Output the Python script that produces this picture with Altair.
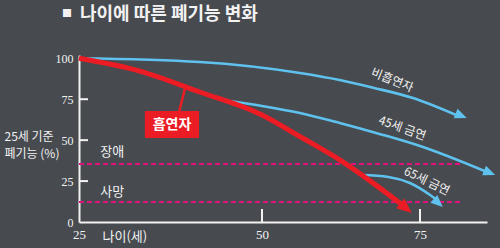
import altair as alt
import pandas as pd

# ---------------- data ----------------
title_mark = "■"
title_text = "나이에 따른 폐기능 변화"
y_title = ["25세 기준", "폐기능 (%)"]
x_title = "나이(세)"

x_break_ages = [25, 50, 75, 85.6]          # hand-drawn (uneven) age axis
x_tick_values = [25, 50, 75]
x_inner_ticks = [50, 75]
y_tick_values = [0, 25, 50, 75, 100]
y_inner_ticks = [25, 50, 75]

nonsmoker_age = [25, 41.5, 56.0, 62.3, 67.6, 73.9, 80.9]
nonsmoker_val = [100, 97.7, 91.0, 86.7, 82.0, 75.7, 65.0]
smoker_age = [25, 33.3, 41.5, 50, 56.0, 62.3, 67.1, 72.2]
smoker_val = [100, 92.2, 79.4, 65.4, 52.2, 37.9, 25.1, 10.4]
quit45_age = [44.9, 50, 56.0, 62.3, 68.6, 75, 85.6]
quit45_val = [74.4, 70.9, 66.6, 60.5, 53.8, 46.4, 30.5]
quit65_age = [65.8, 70.0, 73.4, 76.6, 77.5]
quit65_val = [28.7, 27.5, 23.8, 16.5, 14.0]

series_names = ["비흡연자", "45세 금연", "65세 금연", "흡연자"]
arrow_age = [82.4, 86.9, 78.6, 73.7]
arrow_val = [63.5, 28.7, 9.2, 5.5]
arrow_angle = [22, 22, 42, 40]
arrow_size = [144, 144, 144, 225]

label_names = ["비흡연자", "45세 금연", "65세 금연"]
label_age = [70.6, 72.2, 76.1]
label_val = [86.7, 57.4, 25.0]
label_angle = [22, 20, 26]

threshold_names = ["장애", "사망"]
threshold_vals = [35.5, 12.2]
threshold_start = 25
threshold_end = 81.6
threshold_label_age = [27.9, 27.9]
threshold_label_val = [42.5, 18.3]

smoker_box_age = [34.0, 41.4]
smoker_box_val = [51.3, 67.8]
smoker_box_label = "흡연자"
connector_age = [39.5, 38.7]
connector_val = [81.9, 67.8]

# ---------------- styling ----------------
BG = "#474a4f"
BLUE = "#5fc2ee"
RED = "#ec1c24"
PINK = "#e3117f"
WHITE = "#f2f2f2"
FONT = "Noto Sans CJK KR"
NUMFONT = "Liberation Sans Narrow"
W, H = 408, 167

xscale = alt.Scale(domain=x_break_ages, range=[0, 183, 341, 408], nice=False, zero=False)
yscale = alt.Scale(domain=[0, 102], nice=False, zero=False)

xaxis = alt.Axis(values=x_tick_values, title=x_title, domainColor=WHITE, domainWidth=2,
                 ticks=False, tickSize=0, grid=False, labelColor=WHITE, labelFont=NUMFONT,
                 labelFontSize=13, labelPadding=6, labelFlush=False, labelOverlap=False,
                 labelAngle=0, titleX=23, titleY=14, titleAlign="left", titleBaseline="middle",
                 titleFont=FONT, titleFontSize=13, titleFontWeight="normal", titleColor=WHITE)
yaxis = alt.Axis(values=y_tick_values, title=y_title, domainColor=WHITE, domainWidth=2,
                 ticks=False, tickSize=0, grid=False, labelColor=WHITE, labelFont=NUMFONT,
                 labelFontSize=12, labelPadding=6, labelFlush=False, labelOverlap=False,
                 titleAngle=0, titleX=-75, titleY=81, titleAlign="left", titleBaseline="middle",
                 titleLineHeight=17, titleFont=FONT, titleFontSize=12, titleFontWeight="normal",
                 titleColor=WHITE)


def X(field="age"):
    return alt.X(f"{field}:Q", scale=xscale, axis=xaxis)


def Y(field="val"):
    return alt.Y(f"{field}:Q", scale=yscale, axis=yaxis)


rows = []
for name, ages, vals in [("비흡연자", nonsmoker_age, nonsmoker_val),
                         ("45세 금연", quit45_age, quit45_val),
                         ("65세 금연", quit65_age, quit65_val),
                         ("흡연자", smoker_age, smoker_val)]:
    for a, v in zip(ages, vals):
        rows.append({"series": name, "age": a, "val": v})
lines = pd.DataFrame(rows)

color_scale = alt.Scale(domain=series_names, range=[BLUE, BLUE, BLUE, RED])

thr = pd.DataFrame({"name": threshold_names, "val": threshold_vals,
                    "age": [threshold_start] * 2, "age2": [threshold_end] * 2})
thr_lab = pd.DataFrame({"name": threshold_names, "age": threshold_label_age,
                        "val": threshold_label_val})
arrows = pd.DataFrame({"series": series_names, "age": arrow_age, "val": arrow_val,
                       "ang": arrow_angle, "sz": arrow_size})
labels = pd.DataFrame({"label": label_names, "age": label_age, "val": label_val,
                       "ang": label_angle})
box = pd.DataFrame({"age": [smoker_box_age[0]], "age2": [smoker_box_age[1]],
                    "val": [smoker_box_val[0]], "val2": [smoker_box_val[1]],
                    "label": [smoker_box_label],
                    "cage": [sum(smoker_box_age) / 2], "cval": [sum(smoker_box_val) / 2]})
conn = pd.DataFrame({"age": [connector_age[0]], "age2": [connector_age[1]],
                     "val": [connector_val[0]], "val2": [connector_val[1]]})
yt = pd.DataFrame({"val": y_inner_ticks})
xt = pd.DataFrame({"age": x_inner_ticks})
ttl = pd.DataFrame({"mark": [title_mark], "text": [title_text]})

thr_layer = alt.Chart(thr).mark_rule(color=PINK, strokeWidth=2, strokeDash=[5, 3]).encode(
    x=X(), x2="age2:Q", y=Y())
thr_text = alt.Chart(thr_lab).mark_text(align="left", baseline="middle", font=FONT,
                                        fontSize=13, color=WHITE).encode(
    x=X(), y=Y(), text="name:N")

blue_lines = alt.Chart(lines).transform_filter(alt.datum.series != "흡연자").mark_line(
    strokeWidth=2.6, interpolate="monotone", color=BLUE).encode(
    x=X(), y=Y(), detail="series:N", order="age:Q")
red_line = alt.Chart(lines).transform_filter(alt.datum.series == "흡연자").mark_line(
    strokeWidth=5, interpolate="monotone", color=RED).encode(
    x=X(), y=Y(), order="age:Q")

arrow_layer = alt.Chart(arrows).mark_point(shape="M0,0L-2,-0.85L-2,0.85Z", filled=True,
                                           opacity=1, strokeWidth=0).encode(
    x=X(), y=Y(), angle=alt.Angle("ang:Q", scale=None), size=alt.Size("sz:Q", scale=None),
    color=alt.Color("series:N", scale=color_scale, legend=None))

label_layer = alt.Chart(labels).mark_text(align="center", baseline="middle", font=FONT,
                                          fontSize=12, color=WHITE).encode(
    x=X(), y=Y(), text="label:N", angle=alt.Angle("ang:Q", scale=None))

conn_layer = alt.Chart(conn).mark_rule(color=RED, strokeWidth=2.5).encode(
    x=X(), x2="age2:Q", y=Y(), y2="val2:Q")
box_layer = alt.Chart(box).mark_rect(color=RED).encode(x=X(), x2="age2:Q", y=Y(), y2="val2:Q")
box_text = alt.Chart(box).mark_text(align="center", baseline="middle", font=FONT, fontSize=14,
                                    fontWeight="bold", color="white").encode(
    x=X("cage"), y=Y("cval"), text="label:N")

ytick_layer = alt.Chart(yt).mark_rule(color=WHITE, strokeWidth=2).encode(
    y=Y(), x=alt.value(0), x2=alt.value(9))
xtick_layer = alt.Chart(xt).mark_rule(color=WHITE, strokeWidth=2).encode(
    x=X(), y=alt.value(H - 13), y2=alt.value(H))

title_sq = alt.Chart(ttl).mark_text(align="left", baseline="middle", font=FONT, fontSize=10,
                                    color=WHITE).encode(
    x=alt.value(-17), y=alt.value(-41), text="mark:N")
title_tx = alt.Chart(ttl).mark_text(align="left", baseline="middle", font=FONT, fontSize=18,
                                    fontWeight="bold", color=WHITE).encode(
    x=alt.value(1), y=alt.value(-40), text="text:N")

chart = alt.layer(
    thr_layer, thr_text, blue_lines, red_line, arrow_layer, label_layer,
    conn_layer, box_layer, box_text, ytick_layer, xtick_layer, title_sq, title_tx
).properties(
    width=W, height=H, background=BG,
    padding={"left": 79, "top": 55, "right": 13, "bottom": 26},
    autosize=alt.AutoSizeParams(type="none"),
).configure_view(stroke=None)

chart.save("out.html", embed_options={"renderer": "svg", "actions": False})
